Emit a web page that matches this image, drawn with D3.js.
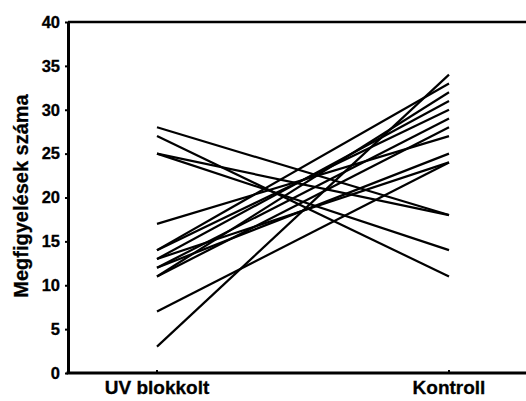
<!DOCTYPE html>
<html>
<head>
<meta charset="utf-8">
<script src="https://cdn.jsdelivr.net/npm/d3@7"></script>
<style>
  body { margin: 0; background: #fff; }
  svg { display: block; }
  text { font-family: Arial, "Liberation Sans", sans-serif; font-weight: bold; }
</style>
</head>
<body>
<svg id="chart" width="526" height="401"></svg>
<script>
// paired observations, one line per pair
var categories = ['UV blokkolt', 'Kontroll']
var uvValues =       [28, 27, 25, 25, 17, 3, 7, 14, 14, 13, 13, 12, 12, 11, 11]
var kontrollValues = [18, 11, 14, 18, 27, 34, 24, 33, 30, 31, 24, 29, 25, 32, 28]
var yTicks = [0, 5, 10, 15, 20, 25, 30, 35, 40]
var yTitle = 'Megfigyelések száma'

var svg = d3.select('#chart')

var plotLeft = 68
var plotRight = 526
var plotTop = 22
var plotBottom = 373

var x = d3.scalePoint()
  .domain(categories)
  .range([157, 449])

var y = d3.scaleLinear()
  .domain([0, 40])
  .range([plotBottom, plotTop])

var pairs = uvValues.map(function (v, i) {
  return [v, kontrollValues[i]]
})

// lines
svg.append('g')
  .selectAll('line')
  .data(pairs)
  .enter()
  .append('line')
  .attr('x1', x(categories[0]))
  .attr('x2', x(categories[1]))
  .attr('y1', function (d) { return y(d[0]) })
  .attr('y2', function (d) { return y(d[1]) })
  .attr('stroke', '#000')
  .attr('stroke-width', 2.2)

// frame lines
svg.append('line')
  .attr('x1', plotLeft).attr('x2', plotRight)
  .attr('y1', plotTop).attr('y2', plotTop)
  .attr('stroke', '#000').attr('stroke-width', 2.5)

var yAxis = svg.append('g')
  .attr('transform', 'translate(' + plotLeft + ',0)')
  .call(d3.axisLeft(y).tickValues(yTicks).tickSize(3).tickSizeOuter(0).tickPadding(5))
yAxis.select('.domain').attr('stroke-width', 3)
yAxis.selectAll('.tick line').attr('stroke-width', 2)
yAxis.selectAll('.tick text')
  .attr('font-size', 16.5)
  .attr('font-family', 'Arial, "Liberation Sans", sans-serif')
  .attr('font-weight', 'bold')
  .attr('fill', '#000')
  .attr('stroke', '#000')
  .attr('stroke-width', 0.3)

var xAxis = svg.append('g')
  .attr('transform', 'translate(0,' + plotBottom + ')')
xAxis.append('line')
  .attr('x1', plotLeft - 1.5).attr('x2', plotRight)
  .attr('stroke', '#000').attr('stroke-width', 3)
xAxis.selectAll('.tk')
  .data(categories)
  .enter()
  .append('line')
  .attr('x1', function (d) { return x(d) })
  .attr('x2', function (d) { return x(d) })
  .attr('y1', 0).attr('y2', -3)
  .attr('stroke', '#000').attr('stroke-width', 2)
xAxis.selectAll('text')
  .data(categories)
  .enter()
  .append('text')
  .attr('x', function (d) { return x(d) })
  .attr('y', 21)
  .attr('text-anchor', 'middle')
  .attr('font-size', 19)
  .attr('stroke', '#000')
  .attr('stroke-width', 0.3)
  .text(function (d) { return d })

svg.append('text')
  .attr('transform', 'translate(28,196) rotate(-90)')
  .attr('text-anchor', 'middle')
  .attr('font-size', 20)
  .attr('stroke', '#000')
  .attr('stroke-width', 0.3)
  .text(yTitle)
</script>
</body>
</html>
